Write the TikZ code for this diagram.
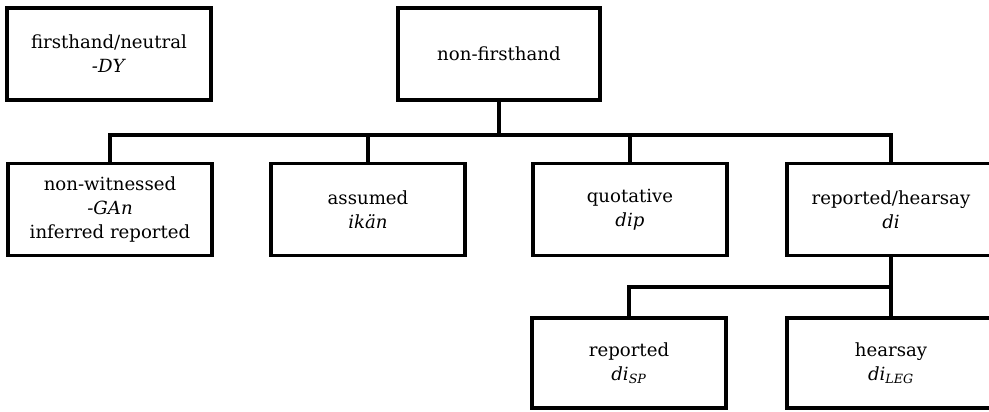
\documentclass[tikz,border=0pt]{standalone}
\usepackage{fontspec}
\setmainfont{DejaVu Serif}
\usetikzlibrary{positioning}
\tikzset{category/.style={draw, line width=2.6pt, align=center, inner sep=2pt,
                          minimum width=145.5pt, minimum height=69pt,
                          font=\fontsize{13.6}{18}\selectfont},
        link/.style={draw, line width=2.6pt},
        }

\begin{document}
\begin{tikzpicture}[x=0.75pt,y=-0.75pt]
    \useasboundingbox (0,0) rectangle (989,411);

    \node[category, minimum width=153pt] (firsthand) at (109,54) {firsthand/neutral\\\textit{-DY}};
    \node[category, minimum width=151.5pt] (nonfirsthand) at (499,54) {non-firsthand};

    \node[category, minimum width=153pt] (nonwitnessed) at (110,209.5) {non-witnessed\\\textit{-GAn}\\inferred reported};
    \node[category] (assumed) at (368,209.5) {assumed\\\textit{ikän}};
    \node[category] (quotative) at (630,209.5) {quotative\\\textit{dip}};
    \node[category, minimum width=156pt] (reportedhearsay) at (891,209.5) {reported/hearsay\\\textit{di}};

    \node[category, minimum height=67.5pt] (reported) at (629,363) {reported\\\textit{di}\textsubscript{\itshape SP}};
    \node[category, minimum width=156pt, minimum height=67.5pt] (hearsay) at (891,363) {hearsay\\\textit{di}\textsubscript{\itshape LEG}};

    % first level
    \coordinate (bus) at (nonfirsthand.south |- 0,135);
    \draw [link] (nonfirsthand.south) -- (bus);
    \draw [link] (nonwitnessed.north) |- (bus) -| (reportedhearsay.north);
    \draw [link] (assumed.north) -- (assumed.north |- bus);
    \draw [link] (quotative.north) -- (quotative.north |- bus);

    % second level
    \coordinate (fork) at (reportedhearsay.south |- 0,287);
    \draw [link] (reportedhearsay.south) -- (fork) -| (reported.north);
    \draw [link] (fork) -- (hearsay.north);
\end{tikzpicture}
\end{document}
